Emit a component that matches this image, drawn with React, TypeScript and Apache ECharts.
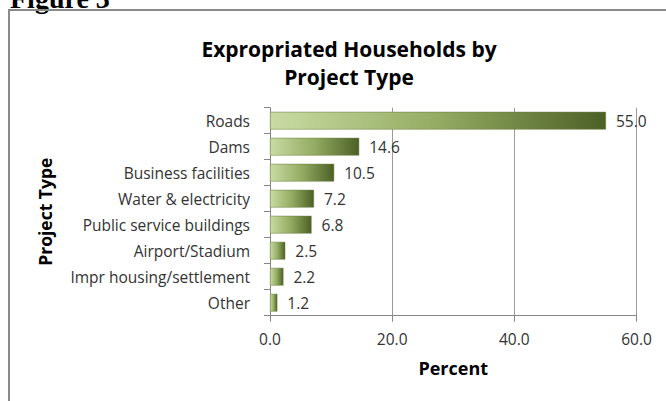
import React, { useEffect, useRef } from "react";
import * as echarts from "echarts";

const categories = [
  "Roads",
  "Dams",
  "Business facilities",
  "Water & electricity",
  "Public service buildings",
  "Airport/Stadium",
  "Impr housing/settlement",
  "Other",
];
const values = [55.0, 14.6, 10.5, 7.2, 6.8, 2.5, 2.2, 1.2];
const xTicks = [0, 20, 40, 60];

const FONT = "'Open Sans', sans-serif";

export default function App() {
  const ref = useRef<HTMLDivElement>(null);
  useEffect(() => {
    if (!ref.current) return;
    const chart = echarts.init(ref.current, undefined, { renderer: "svg" });
    chart.setOption({
      animation: false,
      backgroundColor: "#ffffff",
      textStyle: { fontFamily: FONT },
      title: {
        text: "Expropriated Households by\nProject Type",
        left: 344,
        top: 30,
        textAlign: "center",
        textStyle: {
          fontFamily: FONT,
          fontSize: 21,
          fontWeight: "bold",
          color: "#000",
          lineHeight: 28,
          align: "center",
        },
      },
      graphic: [
        {
          type: "text",
          x: 10,
          y: 12,
          z: 1,
          style: {
            text: "Figure 3",
            font: "bold 28px 'Liberation Serif', serif",
            fill: "#000",
            verticalAlign: "bottom",
          },
        },
        {
          type: "rect",
          z: 2,
          shape: { x: 9, y: 10, width: 700, height: 500 },
          style: { fill: "none", stroke: "#8a8a8a", lineWidth: 2 },
          silent: true,
        },
        {
          type: "rect",
          z: 0,
          shape: { x: 0, y: 10, width: 666, height: 10 },
          style: { fill: "#fff" },
          silent: true,
        },
      ],
      grid: { left: 270, right: 29.5, top: 107.7, bottom: 85.3, containLabel: false },
      xAxis: {
        type: "value",
        min: xTicks[0],
        max: xTicks[xTicks.length - 1],
        interval: 20,
        axisLine: { show: true, lineStyle: { color: "#868686", width: 1 } },
        axisTick: { show: true, length: 6, lineStyle: { color: "#868686" } },
        splitLine: { show: true, lineStyle: { color: "#9a9a9a", width: 1 } },
        axisLabel: {
          formatter: (v: number) => v.toFixed(1),
          fontSize: 15.5,
          color: "#333333",
          margin: 15,
          fontFamily: FONT,
        },
        name: "Percent",
        nameLocation: "middle",
        nameGap: 43,
        nameTextStyle: { fontSize: 18, fontWeight: "bold", color: "#000", fontFamily: FONT },
      },
      yAxis: {
        type: "category",
        data: categories,
        inverse: true,
        axisLine: { show: true, lineStyle: { color: "#868686", width: 1 } },
        axisTick: { show: true, length: 6, lineStyle: { color: "#868686" } },
        axisLabel: { fontSize: 15.5, color: "#333333", margin: 20, fontFamily: FONT },
        name: "Project Type",
        nameLocation: "middle",
        nameRotate: 90,
        nameGap: 216,
        nameTextStyle: { fontSize: 17.5, fontWeight: "bold", color: "#000", fontFamily: FONT },
      },
      series: [
        {
          type: "bar",
          data: values,
          barCategoryGap: "32%",
          itemStyle: {
            color: new echarts.graphic.LinearGradient(0, 0, 1, 0, [
              { offset: 0, color: "#c9dba3" },
              { offset: 0.5, color: "#93ab62" },
              { offset: 1, color: "#4c6026" },
            ]),
            borderColor: "#6a7f3c",
            borderWidth: 0.5,
          },
          label: {
            show: true,
            position: "right",
            distance: 10,
            formatter: (p: any) => Number(p.value).toFixed(1),
            fontSize: 15.5,
            color: "#333333",
            fontFamily: FONT,
          },
        },
      ],
    });
    return () => chart.dispose();
  }, []);
  return (
    <div style={{ position: "absolute", left: 0, top: 0, width: 666, height: 401 }}>
      <div ref={ref} style={{ width: 666, height: 401 }} />
    </div>
  );
}
